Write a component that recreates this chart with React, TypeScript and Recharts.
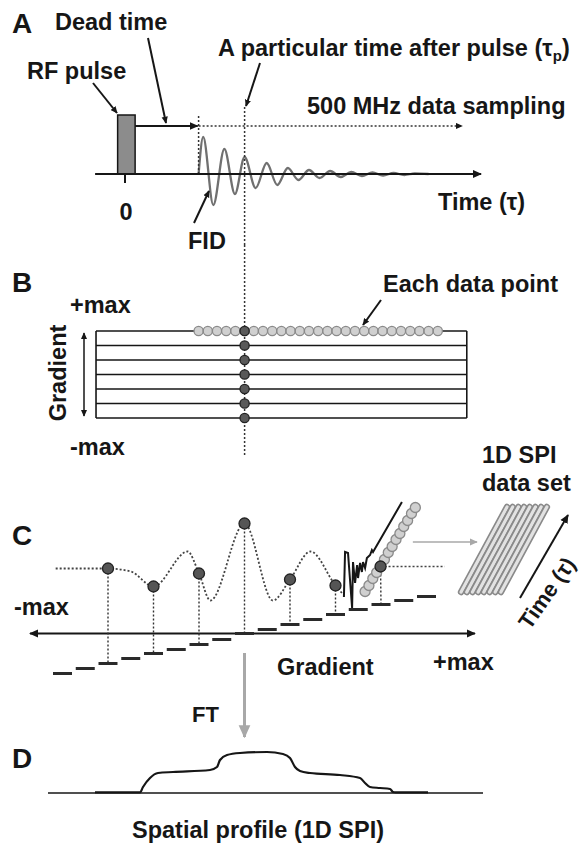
import React from 'react';
import { ComposedChart, XAxis, YAxis, Line, Scatter, ReferenceLine, ReferenceArea } from 'recharts';

const W = 583;
const H = 846;
const FONT = '"Liberation Sans", Arial, Helvetica, sans-serif';
const INK = '#161616';

// ---------- A: RF pulse + FID (time in ns, amplitude in a.u.)
const fidTime = [16, 17, 19.2, 21.6, 23.9, 26, 28.4, 30.8, 33.1, 35.4, 37.7, 40, 42.3, 44.6, 46.9, 49.2, 51.5, 53.8, 56.1, 58.4, 60.7, 63, 66];
const fidAmp = [0, 37, -31, 25, -20, 17, -14, 11, -11, 6, -6, 4, -4, 3, -3, 2, -2, 1.5, -1.5, 1, -1, 0.5, 0];
const pulse = { start: -1.6, end: 2.2, amp: 59 };
const deadTime = 16;
const tauP = 26;
const samplingEnd = 73.3;
const timeAxis = [-6.5, 77.4];

// ---------- B: gradient rows x sampled time points
const sampleTimes = [16, 18, 20, 22, 24, 26, 28, 30, 32, 34, 36, 38, 40, 42, 44, 46, 48, 50, 52, 54, 56, 58, 60, 62, 64, 66, 68];
const gradientRows = [3, 2, 1, 0, -1, -2, -3];
const rowSpan = [-6.3, 74.3];

// ---------- C: signal at tau_p versus gradient step
const stepG = [-8, -7, -6, -5, -4, -3, -2, -1, 0, 1, 2, 3, 4, 5, 6, 7, 8];
const stepLevel = [-40, -35, -30, -25, -20, -16, -11, -6, 0, 4, 9, 14, 19, 24, 29, 33, 37];
const signalG = [-8.3, -6, -5, -4, -2.5, -2, -1.5, 0, 1.25, 2, 2.9, 4, 4.3];
const signalS = [65, 65, 62, 47, 82, 60, 33, 110, 33, 54, 82, 48, 40];
const sampledG = [-6, -4, -2, 0, 2, 4];
const sampledS = [65, 47, 60, 110, 54, 48];
const fidG = [4.37, 4.42, 4.55, 4.73, 4.77, 4.86, 4.95, 4.99, 5.08, 5.16, 5.21, 5.3, 5.38, 5.52, 5.6, 5.65, 6.92];
const fidS = [36.5, 81.5, 80.5, 25.5, 71.5, 50.5, 68.5, 55.5, 70.5, 61.5, 71.5, 65.5, 75.5, 78.5, 83.5, 81.5, 131.5];
const diagG = [5.3, 5.47, 5.64, 5.81, 5.98, 6.15, 6.32, 6.49, 6.66, 6.83, 7.0, 7.17, 7.34, 7.51];
const diagS = [42, 48, 55, 61, 67, 74, 81, 87, 94, 100, 107, 113, 120, 126];
const tauPIndex = 4;
const tubeBottomG = [9.52, 9.77, 10.02, 10.27, 10.52, 10.77, 11.02, 11.27];
const tubeTopG = [11.54, 11.79, 12.04, 12.29, 12.54, 12.79, 13.04, 13.29];
const tubeS = [41.5, 126.5];

// ---------- D: spatial profile
const profileX = [-29.9, -20.9, -20.3, -18.9, -17.3, -14.3, -6.9, -5.5, -4.9, -3.5, -0.9, 4.5, 7.7, 9.1, 10.1, 11.1, 13.1, 19.1, 23.1, 24.1, 25.1, 27.1, 29.1, 29.7, 30.3, 36.7];
const profileI = [0.6, 0.6, 6, 15, 20, 21, 23, 26, 33, 38, 40, 41, 39, 35, 26, 22, 20, 18, 15, 10, 6, 5, 4, 1, 0.6, 0.6];

type Pt = { x: number; y: number };
const pts = (xs: number[], ys: number[]): Pt[] => xs.map((x, i) => ({ x, y: ys[i] }));
const seg = (x1: number, y1: number, x2: number, y2: number): Pt[] => [{ x: x1, y: y1 }, { x: x2, y: y2 }];

// pixel placement of each panel's axes (origin pixel, pixels per unit)
const xDom = (origin: number, ppu: number): [number, number] => [-origin / ppu, (W - origin) / ppu];
const yDom = (origin: number, ppu: number, top: number, h: number): [number, number] => [
  (origin - (top + h)) / ppu,
  (origin - top) / ppu,
];

const path = (key: string, data: Pt[], stroke: string, width: number, extra: any = {}) => (
  <Line
    key={key}
    data={data}
    dataKey="y"
    type="linear"
    stroke={stroke}
    strokeWidth={width}
    dot={false}
    activeDot={false}
    isAnimationActive={false}
    legendType="none"
    {...extra}
  />
);

const arrow = (key: string, data: Pt[], stroke: string, width: number, opts: { dash?: string; end?: string; start?: string } = {}) => (
  <ReferenceLine
    key={key}
    segment={data}
    ifOverflow="visible"
    shape={(p: any) => (
      <line
        x1={p.x1}
        y1={p.y1}
        x2={p.x2}
        y2={p.y2}
        stroke={stroke}
        strokeWidth={width}
        strokeDasharray={opts.dash}
        markerEnd={opts.end ? `url(#${opts.end})` : undefined}
        markerStart={opts.start ? `url(#${opts.start})` : undefined}
      />
    )}
  />
);

const panel = (top: number, height: number, xd: [number, number], yd: [number, number], children: any) => (
  <div style={{ position: 'absolute', left: 0, top }}>
    <ComposedChart width={W} height={height} margin={{ top: 0, right: 0, bottom: 0, left: 0 }}>
      <XAxis type="number" dataKey="x" domain={xd} hide allowDataOverflow />
      <YAxis type="number" dataKey="y" domain={yd} hide allowDataOverflow />
      {children}
    </ComposedChart>
  </div>
);

const circle = (r: number, fill: string, stroke: string) => (p: any) => (
  <circle cx={p.cx} cy={p.cy} r={r} fill={fill} stroke={stroke} strokeWidth={1.3} />
);

const labels = [
  { t: 'A', x: 12, y: 33, s: 28 },
  { t: 'Dead time', x: 55, y: 30 },
  { t: 'RF pulse', x: 27, y: 79 },
  { t: '500 MHz data sampling', x: 307, y: 114 },
  { t: '0', x: 126, y: 220, a: 'middle' },
  { t: 'Time (τ)', x: 438, y: 210 },
  { t: 'FID', x: 188, y: 249 },
  { t: 'B', x: 12, y: 292, s: 28 },
  { t: '+max', x: 70, y: 313 },
  { t: '-max', x: 70, y: 455 },
  { t: 'Each data point', x: 383, y: 292 },
  { t: '1D SPI', x: 482, y: 463 },
  { t: 'data set', x: 482, y: 491 },
  { t: 'C', x: 12, y: 545, s: 28 },
  { t: '-max', x: 14, y: 615 },
  { t: 'Gradient', x: 277, y: 675 },
  { t: '+max', x: 433, y: 670 },
  { t: 'FT', x: 192, y: 722, s: 22 },
  { t: 'D', x: 12, y: 768, s: 28 },
  { t: 'Spatial profile (1D SPI)', x: 132, y: 838 },
];

const callouts = [
  [148, 38, 166, 123],
  [93, 83, 117, 113],
  [260, 63, 246, 106],
  [194, 223, 209, 191],
  [381, 300, 363, 325],
];

export default function App() {
  const aX = xDom(125, 4.6);
  const cX = xDom(244.5, 22.75);
  const dX = xDom(244.5, 5);

  const panelA = panel(0, 245, aX, yDom(174, 1, 0, 245), [
    <ReferenceArea
      key="pulse"
      x1={pulse.start}
      x2={pulse.end}
      y1={0}
      y2={pulse.amp}
      fill="#8c8c8c"
      fillOpacity={1}
      stroke={INK}
      strokeWidth={1.5}
      ifOverflow="visible"
    />,
    path('fid', pts(fidTime, fidAmp), '#707070', 2.3, { type: 'monotone' }),
    path('dead', seg(deadTime, 0, deadTime, pulse.amp), '#333', 1.5, { strokeDasharray: '2 2' }),
    path('taup', seg(tauP, 67, tauP, -71), '#333', 1.5, { strokeDasharray: '2 2' }),
    path('tick0', seg(0, 0, 0, -9), INK, 2),
    arrow('axis', seg(timeAxis[0], 0, timeAxis[1], 0), INK, 2, { end: 'ah' }),
    arrow('deadArrow', seg(pulse.end, 48, deadTime - 0.2, 48), INK, 2, { end: 'ah' }),
    arrow('sampling', seg(deadTime, 48, samplingEnd, 48), '#333', 1.5, { dash: '2 2', end: 'ahSmall' }),
  ]);

  const panelB = panel(245, 225, aX, yDom(374.5, 14.5, 245, 225), [
    path('taupB', seg(tauP, 8.93, tauP, -5.69), '#333', 1.5, { strokeDasharray: '2 2' }),
    ...gradientRows.map((g) => path(`row${g}`, seg(rowSpan[0], g, rowSpan[1], g), INK, 1.6)),
    path('left', seg(rowSpan[0], 3, rowSpan[0], -3), INK, 1.6),
    path('right', seg(rowSpan[1], 3, rowSpan[1], -3), INK, 1.6),
    <Scatter
      key="samples"
      data={sampleTimes.map((t) => ({ x: t, y: gradientRows[0] }))}
      isAnimationActive={false}
      shape={circle(4.6, '#d0d0d0', '#8a8a8a')}
    />,
    <Scatter
      key="taupPts"
      data={gradientRows.map((g) => ({ x: tauP, y: g }))}
      isAnimationActive={false}
      shape={circle(4.6, '#595959', '#222')}
    />,
  ]);

  const panelC = panel(470, 280, cX, yDom(633.5, 1, 470, 280), [
    arrow('gAxis', seg(-9.43, 0, 10.13, 0), INK, 2, { end: 'ah', start: 'ah' }),
    <Scatter
      key="steps"
      data={pts(stepG, stepLevel)}
      isAnimationActive={false}
      shape={(p: any) => (
        <line x1={p.cx - 9.5} x2={p.cx + 9.5} y1={p.cy} y2={p.cy} stroke="#2a2a2a" strokeWidth={3} />
      )}
    />,
    ...sampledG.map((g, i) =>
      path(`drop${g}`, seg(g, sampledS[i], g, stepLevel[stepG.indexOf(g)]), '#333', 1.4, { strokeDasharray: '2 2' })
    ),
    path('dropTau', seg(diagG[tauPIndex], diagS[tauPIndex], 6, stepLevel[stepG.indexOf(6)]), '#333', 1.4, {
      strokeDasharray: '2 2',
    }),
    path('signal', pts(signalG, signalS), '#444', 1.8, { type: 'monotone', strokeDasharray: '2 2' }),
    path('tauRow', seg(diagG[tauPIndex], diagS[tauPIndex], 8.8, diagS[tauPIndex]), '#444', 1.5, {
      strokeDasharray: '2 2',
    }),
    path('fidC', pts(fidG, fidS), INK, 2),
    arrow('toSet', seg(7.4, 91.5, 10.22, 91.5), '#a8a8a8', 1.6, { end: 'ahGraySmall' }),
    ...tubeBottomG.flatMap((b, i) => [
      path(`tubeO${i}`, seg(b, tubeS[0], tubeTopG[i], tubeS[1]), '#8a8a8a', 6.5, { strokeLinecap: 'round' }),
      path(`tubeI${i}`, seg(b, tubeS[0], tubeTopG[i], tubeS[1]), '#e2e2e2', 3.2, { strokeLinecap: 'round' }),
    ]),
    arrow('timeArrow', seg(12.11, 35.5, 14.22, 118.5), INK, 2, { end: 'ah' }),
    arrow('ft', seg(0, -19.5, 0, -103.5), '#a8a8a8', 3, { end: 'ahGray' }),
    <Scatter
      key="diag"
      data={pts(diagG, diagS)}
      isAnimationActive={false}
      shape={circle(5, '#d0d0d0', '#8a8a8a')}
    />,
    <Scatter
      key="sampled"
      data={[...pts(sampledG, sampledS), { x: diagG[tauPIndex], y: diagS[tauPIndex] }]}
      isAnimationActive={false}
      shape={circle(5.5, '#555', '#222')}
    />,
  ]);

  const panelD = panel(745, 101, dX, yDom(793, 1, 745, 101), [
    path('base', seg(-39.3, 0, 47.7, 0), INK, 1.6),
    path('profile', pts(profileX, profileI), INK, 2.2, { type: 'monotone' }),
  ]);

  return (
    <div style={{ position: 'absolute', left: 0, top: 0, width: W, height: H, background: '#fff' }}>
      {panelA}
      {panelB}
      {panelC}
      {panelD}
      <svg width={W} height={H} style={{ position: 'absolute', left: 0, top: 0, pointerEvents: 'none' }}>
        <defs>
          <marker id="ah" viewBox="0 0 10 10" refX="9" refY="5" markerWidth="9" markerHeight="9" markerUnits="userSpaceOnUse" orient="auto-start-reverse">
            <path d="M0,0.5 L10,5 L0,9.5 z" fill={INK} />
          </marker>
          <marker id="ahSmall" viewBox="0 0 10 10" refX="9" refY="5" markerWidth="7" markerHeight="7" markerUnits="userSpaceOnUse" orient="auto-start-reverse">
            <path d="M0,0.5 L10,5 L0,9.5 z" fill={INK} />
          </marker>
          <marker id="ahGray" viewBox="0 0 10 10" refX="9" refY="5" markerWidth="13" markerHeight="13" markerUnits="userSpaceOnUse" orient="auto-start-reverse">
            <path d="M0,0.5 L10,5 L0,9.5 z" fill="#a8a8a8" />
          </marker>
          <marker id="ahGraySmall" viewBox="0 0 10 10" refX="9" refY="5" markerWidth="8" markerHeight="8" markerUnits="userSpaceOnUse" orient="auto-start-reverse">
            <path d="M0,0.5 L10,5 L0,9.5 z" fill="#a8a8a8" />
          </marker>
        </defs>
        {callouts.map(([x1, y1, x2, y2], i) => (
          <line key={i} x1={x1} y1={y1} x2={x2} y2={y2} stroke={INK} strokeWidth={2} markerEnd="url(#ahSmall)" />
        ))}
        <line x1={84} y1={333} x2={84} y2={416} stroke={INK} strokeWidth={1.5} markerStart="url(#ahSmall)" markerEnd="url(#ahSmall)" />
        <g fontFamily={FONT} fontWeight={700} fill={INK}>
          {labels.map((l, i) => (
            <text key={i} x={l.x} y={l.y} fontSize={l.s ?? 23.5} textAnchor={(l as any).a ?? 'start'}>
              {l.t}
            </text>
          ))}
          <text x={218} y={56} fontSize={23.5}>
            A particular time after pulse (τ
            <tspan dy={5} fontSize={15}>p</tspan>
            <tspan dy={-5}>)</tspan>
          </text>
          <text transform="translate(58,373) rotate(-90)" fontSize={23.5} textAnchor="middle" dominantBaseline="central">
            Gradient
          </text>
          <text transform="translate(547,593) rotate(-55)" fontSize={22} textAnchor="middle" dominantBaseline="central">
            Time (τ)
          </text>
        </g>
      </svg>
    </div>
  );
}
